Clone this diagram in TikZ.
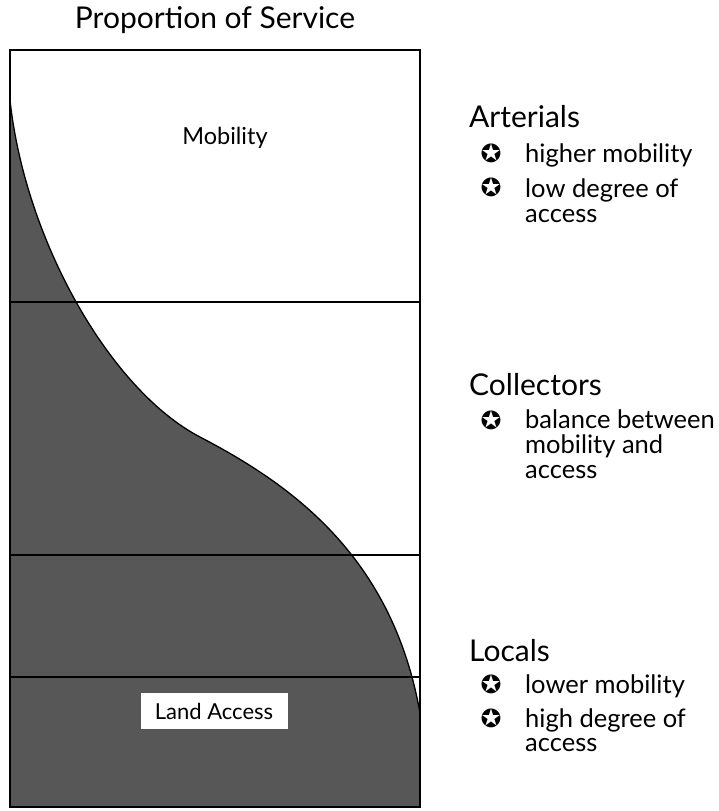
\documentclass[tikz,border=0pt]{standalone}
\usepackage{fontspec}
\setmainfont{Lato}
\newfontfamily\symfont{DejaVu Sans}
\usetikzlibrary{positioning}

\tikzset{
  band/.style={line width=1.4pt},
  heading/.style={anchor=base west,inner sep=0pt,font=\fontsize{30}{32}\selectfont},
  bul/.style={inner sep=0pt,font=\symfont\fontsize{25}{25}\selectfont},
  item/.style={anchor=base west,inner sep=0pt,align=left,font=\fontsize{25.5}{25}\selectfont},
}

\begin{document}
\begin{tikzpicture}[x=1pt,y=-1pt]
\useasboundingbox (0,0) rectangle (718,811);
% title
\node[font=\fontsize{30}{34}\selectfont] (title) at (215,20) {Proportion of Service};
% shaded share of land access
\fill[black!66] (10,100) .. controls (25,240) and (110,390) .. (200,437)
  .. controls (290,484) and (392,555) .. (420,713) -- (420,807) -- (10,807) -- cycle;
\draw[line width=1.3pt] (10,100) .. controls (25,240) and (110,390) .. (200,437)
  .. controls (290,484) and (392,555) .. (420,713);
% class bands
\draw[band] (10,302) -- (420,302);
\draw[band] (10,555) -- (420,555);
\draw[band] (10,677) -- (420,677);
\draw[line width=2pt] (10,50) rectangle (420,807);
\node[font=\fontsize{23.5}{26}\selectfont] (mob) at (225,138) {Mobility};
\node[fill=white,inner sep=0pt,minimum width=147pt,minimum height=36pt,font=\fontsize{22}{26}\selectfont] (land) at (214,711) {Land Access};

% arterials
\node[heading] (art) at (469,127) {Arterials};
\node[bul] (artb1) at (491,153) {✪};
\node[item] (art1) at (525,162) {higher mobility};
\node[bul] (artb2) at (491,187) {✪};
\node[item] (art2) at (525,197) {low degree of};
\node[item] (art3) at (525,222) {access};
% collectors
\node[heading] (col) at (469,395) {Collectors};
\node[bul] (colb1) at (491,420) {✪};
\node[item] (col1) at (525,428) {balance between};
\node[item] (col2) at (525,453) {mobility and};
\node[item] (col3) at (525,478) {access};
% locals
\node[heading] (loc) at (469,661) {Locals};
\node[bul] (locb1) at (491,684) {✪};
\node[item] (loc1) at (525,693) {lower mobility};
\node[bul] (locb2) at (491,718) {✪};
\node[item] (loc2) at (525,727) {high degree of};
\node[item] (loc3) at (525,751) {access};
\end{tikzpicture}
\end{document}
